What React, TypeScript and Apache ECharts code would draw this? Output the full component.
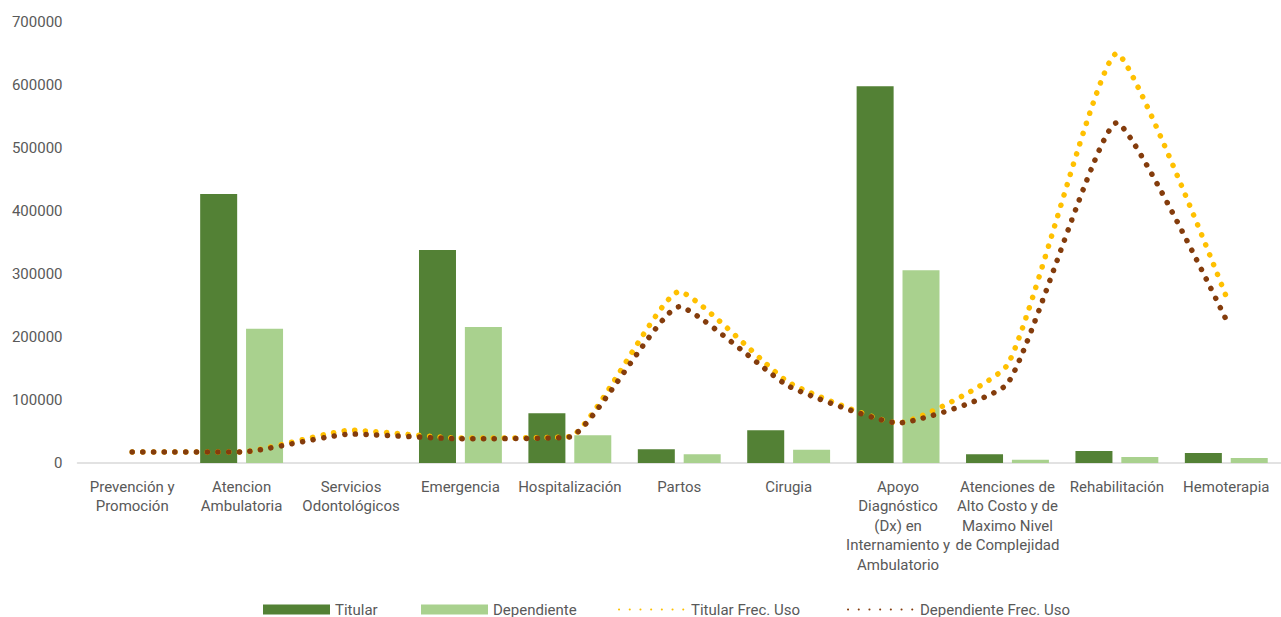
import React, { useEffect, useRef } from "react";
import * as echarts from "echarts";

const categories = [
  "Prevención y\nPromoción",
  "Atencion\nAmbulatoria",
  "Servicios\nOdontológicos",
  "Emergencia",
  "Hospitalización",
  "Partos",
  "Cirugia",
  "Apoyo\nDiagnóstico\n(Dx) en\nInternamiento y\nAmbulatorio",
  "Atenciones de\nAlto Costo y de\nMaximo Nivel\nde Complejidad",
  "Rehabilitación",
  "Hemoterapia",
];

const titular = [0, 427000, 0, 338000, 79000, 22000, 52000, 598000, 14000, 19000, 16000];
const dependiente = [0, 213000, 0, 216000, 44000, 14000, 21000, 306000, 5000, 9500, 8000];
const titularFrec = [17500, 17500, 52000, 39500, 42000, 272000, 128000, 63500, 156000, 650000, 264000];
const dependienteFrec = [17500, 17500, 46000, 38500, 41500, 248000, 122000, 63500, 126000, 540000, 227000];

const seriesNames = ["Titular", "Dependiente", "Titular Frec. Uso", "Dependiente Frec. Uso"];
const legendLefts = [263, 421, 618, 847];

const FONT = "Roboto, 'DejaVu Sans', sans-serif";
const TEXT = "#595959";

export default function App() {
  const ref = useRef<HTMLDivElement>(null);
  useEffect(() => {
    document.body.style.margin = "0";
    const chart = echarts.init(ref.current!, null, { renderer: "svg" });
    const dotted = (color: string) => ({
      color,
      width: 5.5,
      type: [0.1, 10.6] as any,
      cap: "round" as const,
    });
    const legends = seriesNames.map((name, i) => ({
      left: legendLefts[i],
      top: 602,
      padding: 0,
      itemWidth: 67,
      itemHeight: 10,
      itemGap: 0,
      textStyle: { color: TEXT, fontSize: 15, fontFamily: FONT },
      data: [
        i < 2
          ? { name, icon: "rect" }
          : { name, itemStyle: { opacity: 0 } },
      ],
    }));
    chart.setOption({
      animation: false,
      textStyle: { fontFamily: FONT },
      grid: { left: 77.5, top: 22, width: 1210, height: 441 },
      legend: legends,
      xAxis: {
        type: "category",
        data: categories,
        axisLine: { lineStyle: { color: "#d9d9d9", width: 1.5 } },
        axisTick: { show: false },
        axisLabel: {
          color: TEXT,
          fontSize: 15,
          lineHeight: 19.5,
          margin: 14,
          interval: 0,
          fontFamily: FONT,
        },
      },
      yAxis: {
        type: "value",
        min: 0,
        max: 700000,
        interval: 100000,
        splitLine: { show: false },
        axisLine: { show: false },
        axisTick: { show: false },
        axisLabel: {
          color: TEXT,
          fontSize: 15,
          margin: 15,
          fontFamily: FONT,
          formatter: (v: number) => String(v),
        },
      },
      series: [
        {
          name: "Titular",
          type: "bar",
          data: titular,
          barWidth: 37,
          barGap: "24%",
          itemStyle: { color: "#538135" },
        },
        {
          name: "Dependiente",
          type: "bar",
          data: dependiente,
          barWidth: 37,
          itemStyle: { color: "#A9D18E" },
        },
        {
          name: "Titular Frec. Uso",
          type: "line",
          data: titularFrec,
          smooth: 0.15,
          symbol: "none",
          lineStyle: dotted("#FFC000"),
          itemStyle: { color: "#FFC000" },
        },
        {
          name: "Dependiente Frec. Uso",
          type: "line",
          data: dependienteFrec,
          smooth: 0.15,
          symbol: "none",
          lineStyle: dotted("#843C0C"),
          itemStyle: { color: "#843C0C" },
        },
      ],
    });
    return () => chart.dispose();
  }, []);
  return <div ref={ref} style={{ width: 1281, height: 617 }} />;
}
